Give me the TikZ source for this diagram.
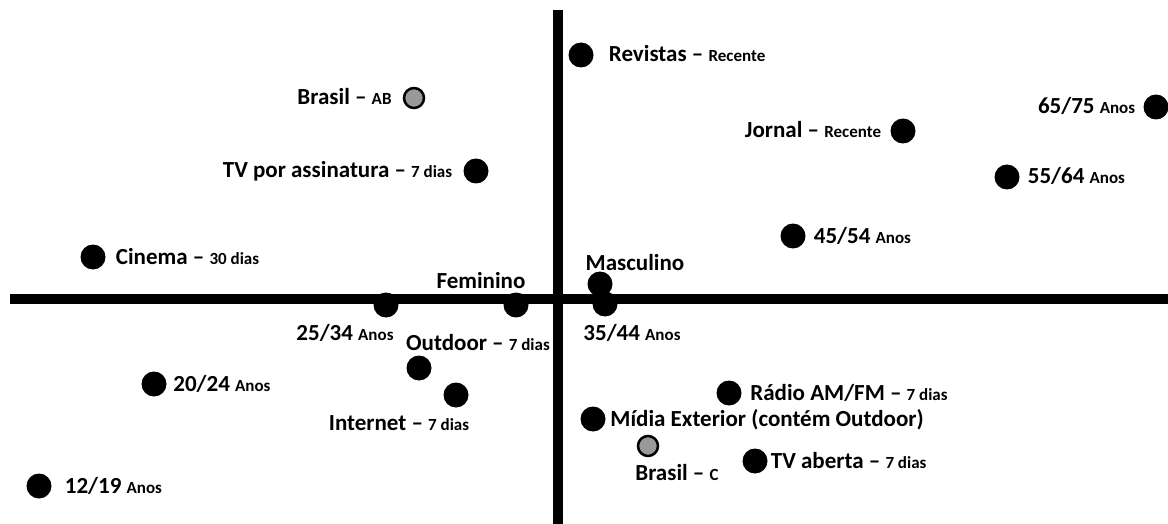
\documentclass[tikz,border=0pt]{standalone}
\usepackage{fontspec}
\setmainfont{Carlito}
\usetikzlibrary{positioning}
\tikzset{
  dot/.style={circle, fill=black, minimum size=25pt, inner sep=0pt},
  gdot/.style={circle, draw=black, line width=2.5pt, fill=black!40, minimum size=20pt, inner sep=0pt},
  lbl/.style={font=\bfseries\fontsize{23}{25}\selectfont, inner sep=0pt, text height=15pt, text depth=1pt},
  axis/.style={line width=10pt}
}
\newcommand{\sm}[1]{{\fontsize{17}{19}\selectfont #1}}

\begin{document}
\begin{tikzpicture}[x=1pt,y=-1pt]
\useasboundingbox (0,0) rectangle (1168,524);
% axes
\draw[axis] (558,10) -- (558,524);
\draw[axis] (10,299) -- (1168,299);
% points
\node[dot]  (rev)   at (581,55)  {};
\node[gdot] (bab)   at (414,98)  {};
\node[dot]  (tvass) at (476,171) {};
\node[dot]  (jor)   at (903,131) {};
\node[dot]  (a6575) at (1156,107) {};
\node[dot]  (a5564) at (1007,177) {};
\node[dot]  (a4554) at (793,236) {};
\node[dot]  (cin)   at (93,257)  {};
\node[dot]  (mas)   at (600,284) {};
\node[dot]  (fem)   at (516,305) {};
\node[dot]  (a2534) at (386,305) {};
\node[dot]  (a3544) at (605,304) {};
\node[dot]  (out)   at (419,368) {};
\node[dot]  (int)   at (456,395) {};
\node[dot]  (a2024) at (154,384) {};
\node[dot]  (a1219) at (39,486)  {};
\node[dot]  (rad)   at (729,393) {};
\node[dot]  (mid)   at (593,419) {};
\node[gdot] (bc)    at (648,446) {};
\node[dot]  (tvab)  at (755,461) {};
% labels
\node[lbl, right=15pt of rev]   {Revistas – \sm{Recente}};
\node[lbl, left=11pt of bab]    {Brasil – \sm{AB}};
\node[lbl, left=11pt of tvass]  {TV por assinatura – \sm{7 dias}};
\node[lbl, left=9pt of jor]     {Jornal – \sm{Recente}};
\node[lbl, left=8pt of a6575]   {65/75 \sm{Anos}};
\node[lbl, right=8pt of a5564]  {55/64 \sm{Anos}};
\node[lbl, right=8pt of a4554]  {45/54 \sm{Anos}};
\node[lbl, right=10pt of cin]   {Cinema – \sm{30 dias}};
\node[lbl, above=3pt of fem, xshift=-35pt]   {Feminino};
\node[lbl, above=0pt of mas, xshift=35pt]    {Masculino};
\node[lbl, below=8pt of a2534, xshift=-41pt] {25/34 \sm{Anos}};
\node[lbl, below=8.5pt of a3544, xshift=27pt]  {35/44 \sm{Anos}};
\node[lbl, above=3.5pt of out, xshift=59pt]  {Outdoor – \sm{7 dias}};
\node[lbl, below=8pt of int, xshift=-57pt] {Internet – \sm{7 dias}};
\node[lbl, right=6.5pt of a2024] {20/24 \sm{Anos}};
\node[lbl, right=13pt of a1219]  {12/19 \sm{Anos}};
\node[lbl, right=8.5pt of rad]   {Rádio AM/FM – \sm{7 dias}};
\node[lbl, right=4.5pt of mid]   {Mídia Exterior (contém Outdoor)};
\node[lbl, below=8pt of bc, xshift=29pt] {Brasil – \sm{C}};
\node[lbl, right=3pt of tvab]    {TV aberta – \sm{7 dias}};
\end{tikzpicture}
\end{document}
